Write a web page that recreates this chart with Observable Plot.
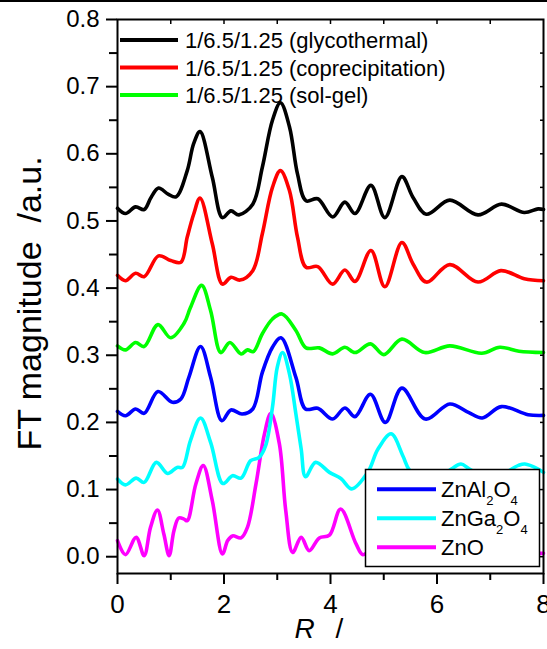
<!DOCTYPE html>
<html><head><meta charset="utf-8">
<script src="https://cdn.jsdelivr.net/npm/d3@7"></script>
<script src="https://cdn.jsdelivr.net/npm/@observablehq/plot@0.6"></script>
<style>
html,body{margin:0;padding:0;background:#fff;}
#wrap{position:relative;width:547px;height:649px;overflow:hidden;font-family:"Liberation Sans",Arial,sans-serif;}
#topbar{position:absolute;left:0;top:0;width:547px;height:2px;background:#000;z-index:2;}
#wrap svg{position:absolute;left:0;top:0;}
</style></head><body><div id="wrap"><div id="topbar"></div></div>
<script>
// ---- data (R in Å, FT magnitude in a.u.) ----
const rGly = [0,0.15,0.34,0.5,0.63,0.77,0.95,1.1,1.31,1.43,1.55,1.78,1.97,2.13,2.28,2.54,2.72,2.91,3.06,3.23,3.38,3.54,3.76,4.04,4.27,4.46,4.76,5.02,5.34,5.55,5.8,6.24,6.77,7.21,7.64,7.9,8.0];
const fGly = [0.519,0.511,0.521,0.517,0.535,0.549,0.540,0.536,0.575,0.615,0.633,0.565,0.505,0.515,0.509,0.525,0.58,0.65,0.676,0.64,0.57,0.53,0.533,0.506,0.528,0.511,0.553,0.505,0.566,0.535,0.510,0.531,0.509,0.525,0.5125,0.518,0.517];

const rCop = [0,0.15,0.34,0.5,0.77,1.0,1.19,1.31,1.43,1.55,1.78,1.97,2.13,2.3,2.54,2.72,2.91,3.06,3.23,3.38,3.54,3.76,4.04,4.27,4.46,4.76,5.02,5.34,5.55,5.8,6.24,6.77,7.2,7.64,8.0];
const fCop = [0.419,0.411,0.422,0.417,0.448,0.441,0.4385,0.476,0.51,0.534,0.466,0.406,0.416,0.412,0.426,0.481,0.55,0.575,0.545,0.476,0.431,0.432,0.406,0.427,0.41,0.456,0.402,0.468,0.436,0.409,0.435,0.409,0.426,0.414,0.411];

const rSol = [0,0.15,0.34,0.5,0.76,1.0,1.25,1.37,1.58,1.75,1.94,2.11,2.32,2.44,2.55,2.72,2.91,3.09,3.35,3.54,3.79,4.04,4.27,4.46,4.75,5.0,5.34,5.77,6.24,6.84,7.18,7.54,8.0];
const fSol = [0.314,0.308,0.319,0.313,0.3456,0.326,0.3476,0.371,0.404,0.366,0.304,0.319,0.302,0.308,0.3054,0.332,0.354,0.3615,0.337,0.311,0.311,0.302,0.312,0.304,0.317,0.301,0.324,0.304,0.314,0.303,0.312,0.306,0.304];

const rAl = [0,0.15,0.34,0.5,0.76,1.03,1.19,1.34,1.56,1.75,1.96,2.13,2.34,2.54,2.72,2.91,3.07,3.35,3.53,3.76,4.04,4.27,4.46,4.75,5.03,5.34,5.78,6.24,6.59,6.85,7.21,7.71,8.0];
const fAl = [0.2165,0.21,0.22,0.2135,0.246,0.23,0.235,0.267,0.313,0.267,0.2026,0.2185,0.2125,0.22,0.2746,0.312,0.326,0.267,0.22,0.221,0.205,0.2215,0.2086,0.242,0.200,0.251,0.205,0.2275,0.215,0.2066,0.2235,0.2115,0.2105];

const rGa = [0,0.15,0.35,0.5,0.73,0.94,1.12,1.22,1.37,1.56,1.75,1.98,2.16,2.32,2.5,2.66,2.78,2.91,3.0,3.1,3.23,3.35,3.45,3.53,3.72,3.98,4.2,4.4,4.7,4.89,5.14,5.36,5.49,5.85,6.27,6.45,6.61,7.0,7.53,7.65,7.9,8.0];
const fGa = [0.1157,0.107,0.117,0.1107,0.1405,0.124,0.133,0.133,0.173,0.2066,0.170,0.109,0.1207,0.117,0.143,0.148,0.165,0.2225,0.282,0.304,0.272,0.2125,0.16,0.119,0.1405,0.1256,0.116,0.101,0.1256,0.16,0.183,0.150,0.128,0.108,0.1306,0.138,0.1306,0.115,0.136,0.138,0.1306,0.1256];

const rZnO = [0,0.15,0.35,0.5,0.62,0.75,0.87,0.97,1.06,1.15,1.25,1.31,1.47,1.61,1.78,1.97,2.07,2.16,2.32,2.44,2.6,2.76,2.88,3.04,3.16,3.29,3.45,3.6,3.79,3.98,4.19,4.48,4.61,4.9,5.2,5.5,5.8,6.2,6.6,7.0,7.5,8.0];
const fZnO = [0.0238,0.003,0.0288,0.0015,0.0437,0.0695,0.0338,0.0015,0.0387,0.0576,0.056,0.0536,0.108,0.1356,0.0834,0.004,0.024,0.031,0.028,0.0437,0.108,0.183,0.2135,0.168,0.0685,0.0064,0.0288,0.009,0.028,0.032,0.071,0.019,0.003,0.02,0.005,0.02,0.005,0.015,0.005,0.012,0.006,0.005];

const seriesNames = ["1/6.5/1.25 (glycothermal)","1/6.5/1.25 (coprecipitation)","1/6.5/1.25 (sol-gel)","ZnAl2O4","ZnGa2O4","ZnO"];
const seriesColors = ["#000000","#ff0000","#00ff00","#0000ff","#00ffff","#ff00ff"];
const seriesR = [rGly,rCop,rSol,rAl,rGa,rZnO];
const seriesF = [fGly,fCop,fSol,fAl,fGa,fZnO];

const yMajor = [0,0.1,0.2,0.3,0.4,0.5,0.6,0.7,0.8];
const yMinor = [0.05,0.15,0.25,0.35,0.45,0.55,0.65,0.75];
const yRight = [0,0.05,0.1,0.15,0.2,0.25,0.3,0.35,0.4,0.45,0.5,0.55,0.6,0.65,0.7,0.75];
const xMajor = [0,2,4,6,8];
const xMinor = [1,3,5,7];
const xTop = [1,2,3,4,5,6,7];
const yTitle = "FT magnitude\u00a0\u00a0/a.u.";
const xTitleItalic = "R";
const xTitleRest = "/";

const legendTop = [0,1,2];
const legendBox = [3,4,5];
const legendParts = {
  3: [["ZnAl",0],["2",1],["O",0],["4",1]],
  4: [["ZnGa",0],["2",1],["O",0],["4",1]],
  5: [["ZnO",0]]
};

// ---- table ----
const rows = [];
seriesNames.forEach((name, i) => {
  seriesR[i].forEach((r, j) => rows.push({series: name, idx: i, R: r, F: seriesF[i][j]}));
});

const drawOrder = [5,4,3,2,1,0];
const lineMarks = drawOrder.map(i => Plot.line(rows.filter(d => d.idx === i), {
  x: "R", y: "F", stroke: seriesColors[i], strokeWidth: 3.6, curve: "catmull-rom"
}));

const font = "'Liberation Sans', Arial, Helvetica, sans-serif";
const chart = Plot.plot({
  width: 547, height: 649,
  marginLeft: 117, marginRight: 4, marginTop: 19, marginBottom: 76,
  style: {fontFamily: font, background: "transparent", color: "black"},
  x: {domain: [0, 8]},
  y: {domain: [-0.025, 0.8]},
  marks: [
    ...lineMarks,
    Plot.frame({stroke: "black", strokeWidth: 2}),
    Plot.axisY(yMajor, {tickSize: 11, tickPadding: 7, tickFormat: d3.format(".1f"), fontSize: 24, strokeWidth: 2, label: null}),
    Plot.axisY(yMinor, {tickSize: 8, tickFormat: () => "", strokeWidth: 2, label: null}),
    Plot.axisY(yRight, {anchor: "right", tickSize: -4, tickFormat: () => "", strokeWidth: 1.5, label: null}),
    Plot.axisX(xMajor, {tickSize: 11, tickPadding: 10, fontSize: 26, strokeWidth: 2, label: null}),
    Plot.axisX(xMinor, {tickSize: 7, tickFormat: () => "", strokeWidth: 2, label: null}),
    Plot.axisX(xTop, {anchor: "top", tickSize: -4, tickFormat: () => "", strokeWidth: 1.5, label: null}),
    Plot.text([yTitle], {text: d => d, frameAnchor: "left", rotate: -90, dx: -77, dy: 7, lineAnchor: "bottom", textAnchor: "middle", fontSize: 34, fill: "black"}),
    Plot.text([xTitleItalic], {text: d => d, frameAnchor: "bottom", dx: -36, dy: 64, lineAnchor: "bottom", textAnchor: "start", fontSize: 28, fontStyle: "italic", fill: "black"}),
    Plot.text([xTitleRest], {text: d => d, frameAnchor: "bottom", dx: 5, dy: 64, lineAnchor: "bottom", textAnchor: "start", fontSize: 28, fill: "black"})
  ]
});
document.getElementById("wrap").appendChild(chart);

// ---- legends ----
const svg = d3.select(chart);
const lg1 = svg.append("g").attr("font-family", font).attr("font-size", 22).attr("text-anchor", "start");
legendTop.forEach((i, k) => {
  const y = 40 + k * 27.5;
  lg1.append("line").attr("x1", 120).attr("x2", 178).attr("y1", y).attr("y2", y)
    .attr("stroke", seriesColors[i]).attr("stroke-width", 4);
  lg1.append("text").attr("x", 185).attr("y", y + 8).attr("fill", "black").attr("text-anchor", "start").text(seriesNames[i]);
});

const lg2 = svg.append("g").attr("font-family", font).attr("font-size", 22).attr("text-anchor", "start");
lg2.append("rect").attr("x", 365.5).attr("y", 469.5).attr("width", 174).attr("height", 97)
  .attr("fill", "white").attr("stroke", "black").attr("stroke-width", 1.5);
legendBox.forEach((i, k) => {
  const y = 489.3 + k * 29;
  lg2.append("line").attr("x1", 377).attr("x2", 436).attr("y1", y).attr("y2", y)
    .attr("stroke", seriesColors[i]).attr("stroke-width", 4);
  const t = lg2.append("text").attr("x", 441).attr("y", y + 8).attr("fill", "black").attr("text-anchor", "start");
  let prevSub = 0;
  legendParts[i].forEach(([s, sub]) => {
    const ts = t.append("tspan").text(s);
    if (sub) ts.attr("font-size", 13).attr("dy", prevSub ? 0 : 8);
    else ts.attr("dy", prevSub ? -8 : 0);
    prevSub = sub;
  });
});
</script>
</body></html>
